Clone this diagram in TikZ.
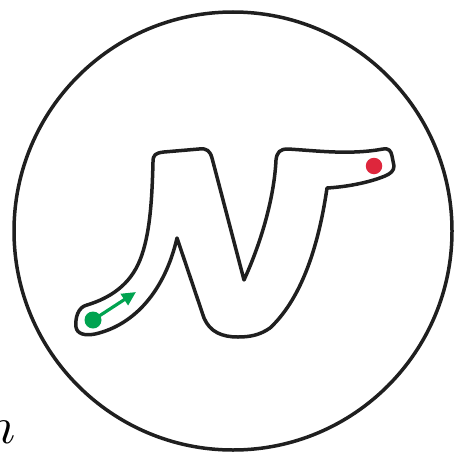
\documentclass[tikz,border=0pt]{standalone}
\usepackage{graphicx}
\usetikzlibrary{arrows.meta}
\definecolor{dotgreen}{RGB}{0,163,80}
\definecolor{dotred}{RGB}{222,38,60}
\tikzset{
  outline/.style={draw=black!88, line width=3.5pt, line join=round},
  dotstyle/.style={circle, inner sep=0pt, minimum size=#1},
  vec/.style={draw=dotgreen, line width=3.2pt, -{Triangle[length=14pt,width=13pt]}},
}
\begin{document}
\begin{tikzpicture}[x=1pt,y=-1pt]
\useasboundingbox (0,0) rectangle (454,452);
% domain
\node[outline, circle, minimum size=438pt, inner sep=0pt] (domain) at (233,231) {};
% label
\node[anchor=base east, inner sep=0pt] (lbl) at (16,443) {\scalebox{5.2}{$n$}};
% N-shaped region
\draw[outline] (153,162)
  .. controls (153,155) and (155,153) .. (164,152)
  -- (199,149)
  .. controls (207,148) and (210,151) .. (212,158)
  -- (244,280)
  .. controls (260,245) and (274,200) .. (276,160)
  .. controls (277,152) and (280,149) .. (288,149)
  .. controls (320,151) and (350,155) .. (383,149)
  .. controls (389,148) and (391,151) .. (392,156)
  -- (394,166)
  .. controls (394,171) and (390,174) .. (385,176)
  .. controls (368,183) and (345,187) .. (327,188)
  .. controls (318,250) and (300,300) .. (270,328)
  .. controls (260,335) and (250,337) .. (238,337)
  .. controls (222,337) and (210,332) .. (204,318)
  -- (177,238)
  .. controls (165,290) and (135,325) .. (95,334)
  .. controls (85,336) and (77,334) .. (76,327)
  .. controls (75,318) and (78,307) .. (87,305)
  .. controls (110,298) and (130,285) .. (140,260)
  .. controls (150,235) and (152,200) .. (153,162) -- cycle;
% start and end points
\node[dotstyle=17pt, fill=dotgreen] (start) at (93,320) {};
\node[dotstyle=16.5pt, fill=dotred] (goal) at (374,166) {};
\coordinate (tip) at (136,292);
\draw[vec] (start.center) -- (tip);
\end{tikzpicture}
\end{document}
